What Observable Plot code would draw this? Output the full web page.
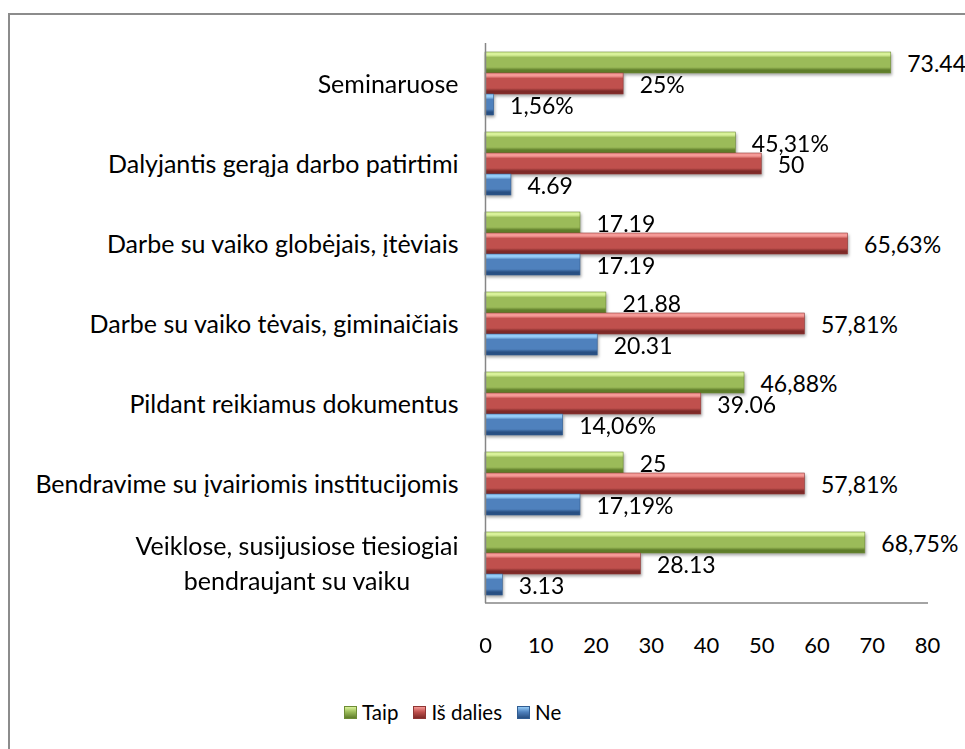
<!DOCTYPE html>
<html>
<head>
<meta charset="utf-8">
<script src="https://cdn.jsdelivr.net/npm/d3@7"></script>
<script src="https://cdn.jsdelivr.net/npm/@observablehq/plot@0.6"></script>
<style>
  body { margin: 0; background: #fff; font-family: Lato, sans-serif; }
  #wrap { position: relative; width: 965px; height: 749px; overflow: hidden; background: #fff; }
  #border { position: absolute; left: 8px; top: 13px; width: 1000px; height: 800px;
            border-top: 2px solid #8c8c8c; border-left: 2px solid #8c8c8c; }
  #chart { position: absolute; left: 0; top: 0; }
  #legend { position: absolute; left: 344px; top: 698px; height: 28px; display: flex;
            align-items: center; font-family: Lato, sans-serif; font-size: 20.5px; color: #000; }
  .item { display: flex; align-items: center; margin-right: 15px; }
  .sw { width: 13px; height: 13px; margin-right: 5px; box-sizing: border-box; }
  svg g[aria-label="bar"] { filter: drop-shadow(1.5px 2px 1.5px rgba(0,0,0,0.35)); }
</style>
</head>
<body>
<div id="wrap">
  <div id="border"></div>
  <div id="chart"></div>
  <div id="legend"></div>
</div>
<script>
// ---- data ----
const categories = [
  "Seminaruose",
  "Dalyjantis gerąja darbo patirtimi",
  "Darbe su vaiko globėjais, įtėviais",
  "Darbe su vaiko tėvais, giminaičiais",
  "Pildant reikiamus dokumentus",
  "Bendravime su įvairiomis institucijomis",
  "Veiklose, susijusiose tiesiogiai\nbendraujant su vaiku"
];
const seriesNames = ["Taip", "Iš dalies", "Ne"];
const taipValues = [73.44, 45.31, 17.19, 21.88, 46.88, 25, 68.75];
const isDaliesValues = [25, 50, 65.63, 57.81, 39.06, 57.81, 28.13];
const neValues = [1.56, 4.69, 17.19, 20.31, 14.06, 17.19, 3.13];
const taipLabels = ["73.44", "45,31%", "17.19", "21.88", "46,88%", "25", "68,75%"];
const isDaliesLabels = ["25%", "50", "65,63%", "57,81%", "39.06", "57,81%", "28.13"];
const neLabels = ["1,56%", "4.69", "17.19", "20.31", "14,06%", "17,19%", "3.13"];
const xTicks = [0, 10, 20, 30, 40, 50, 60, 70, 80];

// ---- styles ----
const palettes = [
  {id: "gTaip", light: "#d9f29a", mid: "#9bbb59", dark: "#5f7d2a", stroke: "#6e8c36"},
  {id: "gDal", light: "#f59a97", mid: "#c0504d", dark: "#7e2a28", stroke: "#8f3634"},
  {id: "gNe", light: "#95ccf7", mid: "#4f81bd", dark: "#284f82", stroke: "#315d92"}
];

const valueSets = [taipValues, isDaliesValues, neValues];
const labelSets = [taipLabels, isDaliesLabels, neLabels];
const rows = [];
categories.forEach((c, i) => {
  seriesNames.forEach((s, j) => {
    rows.push({category: c, series: s, value: valueSets[j][i], label: labelSets[j][i]});
  });
});

const W = 965, H = 690, mL = 485, mR = 38, mT = 43, mB = 87;

const marks = [];
seriesNames.forEach((s, j) => {
  marks.push(Plot.barX(rows.filter(d => d.series === s), {
    x: "value", y: "series", fy: "category",
    fill: `url(#${palettes[j].id})`, stroke: palettes[j].stroke, strokeWidth: 0.6
  }));
});
marks.push(Plot.ruleX([0], {stroke: "#868686", strokeWidth: 1.5}));
marks.push(Plot.text(rows, {
  x: "value", y: "series", fy: "category", text: "label",
  textAnchor: "start", dx: 16, dy: 2, fontSize: 23, fill: "#000"
}));
marks.push(Plot.axisFy({
  anchor: "left", tickSize: 0, tickPadding: 27, label: null,
  fontSize: 25, lineHeight: 1.38, dy: -2, fill: "#000"
}));
marks.push(Plot.axisX({
  anchor: "bottom", ticks: xTicks, tickSize: 0, tickPadding: 34, label: null,
  fontSize: 22, fill: "#000"
}));

const chart = Plot.plot({
  width: W, height: H,
  marginLeft: mL, marginRight: mR, marginTop: mT, marginBottom: mB,
  style: {fontFamily: "Lato, sans-serif", fontSize: "22px", background: "transparent", color: "#000"},
  x: {domain: [0, 80], axis: null},
  y: {domain: seriesNames, axis: null, paddingInner: 0, paddingOuter: 0.375},
  fy: {domain: categories, padding: 0, axis: null},
  marks
});
document.getElementById("chart").appendChild(chart);

// gradients for bevel look
const defs = d3.select(chart).insert("defs", ":first-child");
palettes.forEach(p => {
  const g = defs.append("linearGradient").attr("id", p.id)
    .attr("x1", 0).attr("y1", 0).attr("x2", 0).attr("y2", 1);
  [[0, p.light], [0.14, p.light], [0.26, p.mid], [0.72, p.mid], [0.86, p.dark], [1, p.dark]]
    .forEach(([o, c]) => g.append("stop").attr("offset", o).attr("stop-color", c));
});

// bottom axis line using the x scale
const xs = chart.scale("x");
d3.select(chart).append("line")
  .attr("x1", xs.apply(0)).attr("x2", xs.apply(80) + 1)
  .attr("y1", H - mB).attr("y2", H - mB)
  .attr("stroke", "#868686").attr("stroke-width", 1.5);

// center multi-line category labels
d3.select(chart).selectAll('g[aria-label="fy-axis tick label"] text').each(function() {
  const tspans = this.querySelectorAll("tspan");
  if (tspans.length > 1) {
    const w = this.getBBox().width;
    this.setAttribute("text-anchor", "middle");
    tspans.forEach(t => t.setAttribute("x", -w / 2 + (+(t.getAttribute("x") || 0))));
  }
});

// legend
const legend = document.getElementById("legend");
seriesNames.forEach((s, j) => {
  const p = palettes[j];
  const item = document.createElement("div");
  item.className = "item";
  const sw = document.createElement("div");
  sw.className = "sw";
  sw.style.background = `linear-gradient(${p.light}, ${p.mid} 45%, ${p.dark})`;
  sw.style.border = `1px solid ${p.stroke}`;
  const t = document.createElement("span");
  t.textContent = s;
  item.appendChild(sw); item.appendChild(t);
  legend.appendChild(item);
});
</script>
</body>
</html>
